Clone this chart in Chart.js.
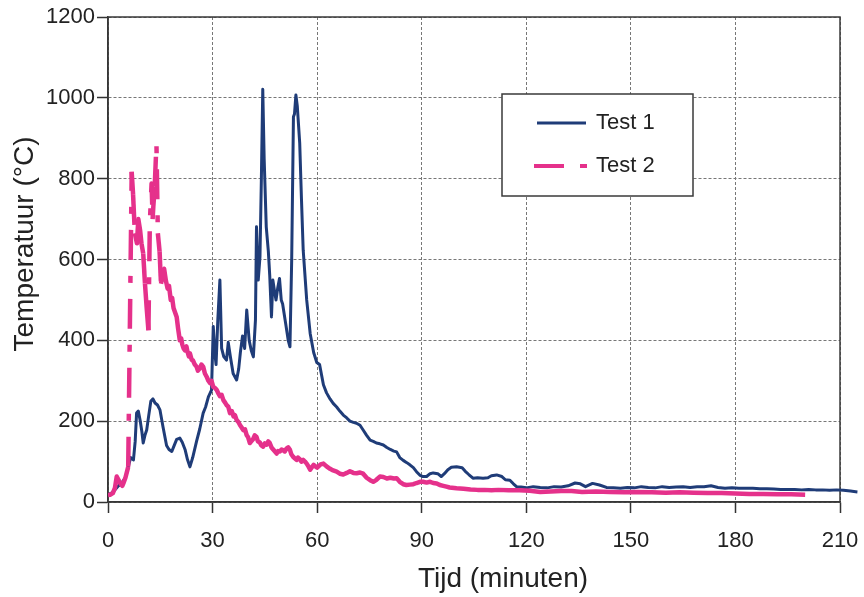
<!DOCTYPE html>
<html>
<head>
<meta charset="utf-8">
<script src="https://cdn.jsdelivr.net/npm/chart.js@4/dist/chart.umd.min.js"></script>
<style>
html,body{margin:0;padding:0;background:#fff;}
canvas{display:block;}
</style>
</head>
<body>
<canvas id="c" width="864" height="597"></canvas>
<script>
// ---- data ----
const seriesNames = ["Test 1", "Test 2"];
const xTitle = "Tijd (minuten)";
const yTitle = "Temperatuur (°C)";
const xTicks = [0, 30, 60, 90, 120, 150, 180, 210];
const yTicks = [0, 200, 400, 600, 800, 1000, 1200];

const test1Times = [0,1,2,3,4,5,5.8,6.5,7.3,7.8,8.2,8.7,9.2,9.7,10.1,10.6,11.1,11.7,12.3,12.9,13.5,14.2,14.9,15.8,16.8,17.5,18.3,19.0,19.7,20.6,21.3,22.1,22.8,23.5,24.3,25.4,26.3,27.3,28.0,28.8,29.7,30.2,30.6,31.0,31.5,32.1,32.6,33.2,34.0,34.5,35.1,35.9,36.9,37.5,38.0,38.6,39.2,39.8,40.5,41.1,41.7,42.3,42.6,43.1,43.6,44.0,44.4,44.8,45.4,46.0,46.4,46.9,47.3,47.8,48.2,48.7,49.2,49.7,50.1,51.0,51.7,52.2,52.7,53.2,53.5,53.9,54.3,55.0,55.5,56.0,57.0,58.0,59.0,59.9,60.7,61.8,62.7,63.7,64.6,65.6,66.5,67.5,68.5,69.4,70.4,71.3,72.3,73.2,74.2,75.2,76.1,77.0,78.0,79.0,80.0,81.0,82.0,82.8,83.7,84.7,85.6,86.6,87.6,88.5,89.5,90.4,91.4,92.4,93.3,94.6,95.6,96.5,97.5,98.5,100,101.6,102.5,103.5,104.7,106,107.6,109,110,111.5,113,114,115.3,116.3,117.2,118.5,120,122,124,126,128,130,132,134,135.5,137,139,141,143,145,147,149,151,153,155,157,159,161,163,165,167,169,171,173,175,177,179,181,183,185,187,189,191,193,195,197,199,201,203,205,207,209,211,213,215];
const test1Temps = [18,22,30,40,48,60,87,110,104,150,220,225,203,175,146,165,178,215,250,255,245,240,228,185,140,130,125,140,155,158,148,130,105,87,110,150,180,220,235,260,277,434,372,340,450,549,380,360,351,395,360,318,302,330,372,411,380,475,400,375,359,450,681,549,607,800,1021,850,681,620,560,458,549,520,500,530,553,500,490,440,400,384,600,953,960,1007,980,888,750,623,500,417,370,345,340,290,270,255,244,235,225,215,208,200,197,195,190,178,165,153,150,146,144,141,135,130,126,124,110,103,98,92,85,75,66,63,63,70,72,70,63,70,80,86,87,85,76,68,59,60,59,60,65,67,63,55,54,45,38,37,35,38,36,35,38,37,40,47,45,38,46,42,36,35,34,36,35,38,36,35,38,36,37,38,36,38,38,40,36,34,35,34,34,34,33,33,32,31,31,31,30,31,30,30,29,30,29,27,25];

const test2Times = [0,0.6,1.4,2.0,2.5,3.0,3.6,4.1,4.5,5.0,5.8,6.8,7.2,7.7,8.3,8.7,9.2,9.6,10.1,10.6,11.1,11.6,12.0,12.5,12.8,13.0,13.4,13.9,14.3,14.8,15.2,15.7,16.1,16.6,17.1,17.5,18.0,18.4,18.8,19.2,19.7,20.1,20.6,21.0,21.3,21.7,22.1,22.5,22.8,23.2,23.5,24.0,24.4,24.9,25.4,25.8,26.3,26.8,27.3,27.8,28.3,28.8,29.3,29.7,30.2,30.7,31.2,31.7,32.1,32.6,33.1,33.6,34.0,34.5,35.0,35.5,36.0,36.4,36.9,37.4,37.9,38.3,38.8,39.3,39.8,40.2,40.7,41.1,41.6,42.1,42.6,43.0,43.5,44.0,44.5,45.0,45.5,46.0,46.4,46.9,47.4,47.9,48.4,48.8,49.3,49.8,50.3,50.7,51.2,51.7,52.2,52.6,53.1,53.6,54.1,54.5,55.0,55.5,56.0,56.5,57.0,57.5,58.0,58.5,59.0,59.5,60.0,61.0,61.8,62.7,63.7,64.6,65.6,66.5,67.5,68.5,69.4,70.4,71.3,72.3,73.2,74.2,75.2,76.1,77.0,78.0,79.0,80.0,81.0,82.0,82.8,83.7,84.7,85.6,86.6,87.6,88.5,89.5,90.4,91.4,92.4,93.3,94.3,95.2,96.2,97.1,98,100,102,104,106,108,110,112,115,118,121,124,127,130,133,136,140,144,148,152,156,160,164,168,172,176,180,184,188,192,196,200];
const test2Temps = [17,18,22,35,63,55,45,40,48,60,87,817,760,665,640,700,673,640,615,541,480,425,690,788,700,730,780,887,665,620,540,562,577,548,528,535,500,505,480,470,458,430,400,405,390,380,375,385,372,360,368,352,350,340,335,325,330,340,335,318,310,300,294,300,285,282,277,268,262,265,252,246,240,236,220,225,212,215,203,198,190,185,178,180,165,160,146,150,155,165,161,150,148,140,137,145,142,150,146,135,130,125,120,126,125,130,128,125,132,135,129,118,112,108,104,110,106,100,104,100,95,88,80,86,92,88,85,93,95,88,82,78,75,70,68,72,76,72,71,73,70,60,54,50,55,63,62,58,60,58,59,50,44,42,43,44,47,50,50,48,50,47,46,42,40,38,36,34,33,31,30,30,29,30,29,29,28,25,26,27,27,25,26,25,24,25,24,23,24,23,22,22,21,20,20,19,19,18,17];

// ---- styles ----
const BLUE = "#1f3c78";
const PINK = "#e5318b";
const DARK = "#333333";
const FONT = "'Liberation Sans', Arial, sans-serif";
const PINK_DASH = [30, 16, 7, 16];

const test1Data = test1Times.map((t, i) => ({x: t, y: test1Temps[i]}));
const test2Data = test2Times.map((t, i) => ({x: t, y: test2Temps[i]}));

const framePlugin = {
  id: 'frame',
  beforeDatasetsDraw(chart) {
    const {ctx, chartArea: a} = chart;
    ctx.save();
    ctx.strokeStyle = "#3a3a3a";
    ctx.lineWidth = 1.5;
    ctx.setLineDash([]);
    ctx.strokeRect(a.left, a.top, a.right - a.left, a.bottom - a.top);
    ctx.restore();
  },
  afterDraw(chart) {
    const {ctx} = chart;
    ctx.save();
    // legend box
    ctx.fillStyle = "#fff";
    ctx.fillRect(502, 94, 191, 102);
    ctx.strokeStyle = "#3a3a3a";
    ctx.lineWidth = 1.5;
    ctx.strokeRect(502, 94, 191, 102);
    // legend lines
    ctx.lineCap = "butt";
    ctx.strokeStyle = BLUE;
    ctx.lineWidth = 3;
    ctx.beginPath(); ctx.moveTo(537, 123); ctx.lineTo(586, 123); ctx.stroke();
    ctx.strokeStyle = PINK;
    ctx.lineWidth = 4;
    ctx.setLineDash(PINK_DASH);
    ctx.beginPath(); ctx.moveTo(534, 166); ctx.lineTo(588, 166); ctx.stroke();
    ctx.setLineDash([]);
    ctx.fillStyle = "#222";
    ctx.font = "22px " + FONT;
    ctx.textAlign = "left";
    ctx.textBaseline = "middle";
    ctx.fillText(seriesNames[0], 596, 123);
    ctx.fillText(seriesNames[1], 596, 166);
    // axis titles
    ctx.font = "28px " + FONT;
    ctx.textAlign = "center";
    ctx.textBaseline = "alphabetic";
    ctx.fillText(xTitle, 503, 587);
    ctx.translate(33, 244);
    ctx.rotate(-Math.PI / 2);
    ctx.fillText(yTitle, 0, 0);
    ctx.restore();
  }
};

new Chart(document.getElementById('c'), {
  type: 'line',
  data: {
    datasets: [
      {
        label: seriesNames[0],
        data: test1Data,
        borderColor: BLUE,
        borderWidth: 3,
        pointRadius: 0,
        tension: 0,
        borderJoinStyle: 'round',
        clip: {left: 0, top: 0, right: 30, bottom: 0},
        order: 1
      },
      {
        label: seriesNames[1],
        data: test2Data,
        borderColor: PINK,
        borderWidth: 4.5,
        pointRadius: 0,
        tension: 0,
        borderJoinStyle: 'round',
        clip: {left: 0, top: 0, right: 30, bottom: 0},
        order: 0,
        segment: {
          borderDash: ctx => {
            const dx = ctx.p1.x - ctx.p0.x, dy = ctx.p1.y - ctx.p0.y;
            return Math.hypot(dx, dy) > 25 ? PINK_DASH : undefined;
          }
        }
      }
    ]
  },
  options: {
    responsive: false,
    animation: false,
    events: [],
    layout: {padding: {left: 0, right: 24, top: 17, bottom: 0}},
    plugins: {legend: {display: false}, tooltip: {enabled: false}, title: {display: false}},
    scales: {
      x: {
        type: 'linear',
        bounds: 'data',
        afterDataLimits: s => { s.min = xTicks[0]; s.max = xTicks[xTicks.length - 1]; },
        afterFit: s => { s.height = 95; s.paddingLeft = 0; s.paddingRight = 0; },
        afterBuildTicks: s => { s.ticks = xTicks.map(v => ({value: v})); s.min = xTicks[0]; s.max = xTicks[xTicks.length - 1]; },
        ticks: {color: "#222", font: {family: FONT, size: 22}, padding: 15, maxRotation: 0, autoSkip: false,
                stepSize: 30, callback: v => String(v)},
        grid: {color: "#777", lineWidth: 1, tickLength: 11, tickColor: DARK, tickWidth: 1.5},
        border: {display: true, color: DARK, width: 1.5, dash: [3, 2]}
      },
      y: {
        type: 'linear',
        min: yTicks[0],
        max: yTicks[yTicks.length - 1],
        afterFit: s => { s.width = 108; s.paddingTop = 0; s.paddingBottom = 0; },
        afterBuildTicks: s => { s.ticks = yTicks.map(v => ({value: v})); },
        ticks: {color: "#222", font: {family: FONT, size: 22}, padding: 2, autoSkip: false,
                callback: v => String(v)},
        grid: {color: "#777", lineWidth: 1, tickLength: 11, tickColor: DARK, tickWidth: 1.5},
        border: {display: true, color: DARK, width: 1.5, dash: [3, 2]}
      }
    }
  },
  plugins: [framePlugin]
});
</script>
</body>
</html>
